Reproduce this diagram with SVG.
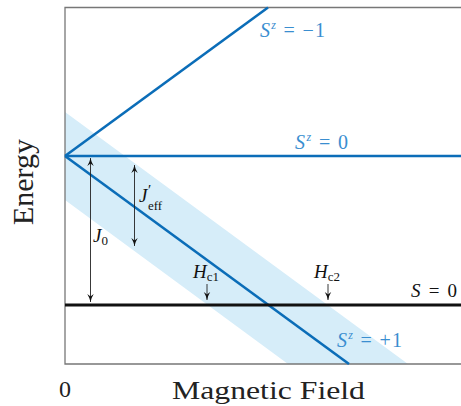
<svg xmlns="http://www.w3.org/2000/svg" width="461" height="406" viewBox="0 0 461 406">
<defs>
<style>
text{font-family:"Liberation Serif","DejaVu Serif",serif;}
.blue{fill:#3a8ed0;font-size:20px;}
.blk{fill:#111;font-size:19px;}
.it{font-style:italic;}
.lvl{stroke:#0b6db8;stroke-width:2.6;fill:none;}
.arr{stroke:#222;stroke-width:0.9;fill:none;}
.frame{stroke:#777;stroke-width:1.3;fill:none;}
</style>
<marker id="ah" viewBox="0 0 10 10" refX="10" refY="5" markerWidth="8" markerHeight="8" orient="auto-start-reverse" markerUnits="userSpaceOnUse">
<path d="M0,1 Q5,4 10,5 Q5,6 0,9 L3,5 Z" fill="#111"/>
</marker>
<clipPath id="plot"><rect x="65" y="7.5" width="396" height="356.5"/></clipPath>
</defs>
<g id="band" clip-path="url(#plot)">
<polygon points="65,112 408,364 288,364 65,200" fill="#d6edf9"/>
</g>
<g id="frame">
<polyline class="frame" points="461,7.5 65,7.5 65,364 461,364"/>
</g>
<g id="connectors">
<line class="lvl" x1="65" y1="156" x2="268" y2="7.5"/>
<line class="lvl" x1="65" y1="156" x2="461" y2="156"/>
<line class="lvl" x1="65" y1="156" x2="349" y2="364"/>
<line x1="65" y1="305" x2="461" y2="305" stroke="#111" stroke-width="3"/>
<line class="arr" x1="90.5" y1="158" x2="90.5" y2="302" marker-start="url(#ah)" marker-end="url(#ah)"/>
<line class="arr" x1="134.5" y1="165" x2="134.5" y2="246" marker-start="url(#ah)" marker-end="url(#ah)"/>
<line class="arr" x1="207" y1="284" x2="207" y2="300" marker-end="url(#ah)"/>
<line class="arr" x1="328" y1="284" x2="328" y2="300" marker-end="url(#ah)"/>
</g>
<g id="label-sm1"><text class="blue" x="260" y="37" textLength="65" lengthAdjust="spacing"><tspan class="it">S</tspan><tspan class="it" font-size="12" dy="-8">z</tspan><tspan dy="8"> = −1</tspan></text></g>
<g id="label-s0"><text class="blue" x="295" y="149" textLength="53" lengthAdjust="spacing"><tspan class="it">S</tspan><tspan class="it" font-size="12" dy="-8">z</tspan><tspan dy="8"> = 0</tspan></text></g>
<g id="label-sp1"><text class="blue" x="337" y="347" textLength="65" lengthAdjust="spacing"><tspan class="it">S</tspan><tspan class="it" font-size="12" dy="-8">z</tspan><tspan dy="8"> = +1</tspan></text></g>
<g id="label-S0"><text class="blk" x="411" y="297" textLength="46" lengthAdjust="spacing"><tspan class="it">S</tspan> = 0</text></g>
<g id="label-J0"><text class="blk" x="93" y="242"><tspan class="it">J</tspan><tspan font-size="13" dy="3">0</tspan></text></g>
<g id="label-Jeff"><text class="blk" x="139" y="202"><tspan class="it">J</tspan></text><text x="148" y="195" font-size="15" fill="#111">′</text><text x="148" y="210" font-size="13" fill="#111">eff</text></g>
<g id="label-Hc1"><text class="blk" x="193" y="278"><tspan class="it">H</tspan><tspan font-size="13" dy="3">c1</tspan></text></g>
<g id="label-Hc2"><text class="blk" x="314" y="278"><tspan class="it">H</tspan><tspan font-size="13" dy="3">c2</tspan></text></g>
<g id="axis-labels">
<text x="65" y="397" font-size="24" fill="#222" text-anchor="middle">0</text>
<text x="172" y="399" font-size="25" fill="#222" textLength="193" lengthAdjust="spacingAndGlyphs">Magnetic Field</text>
<text transform="translate(33,225) rotate(-90)" font-size="29" fill="#222" textLength="86" lengthAdjust="spacingAndGlyphs">Energy</text>
</g>
</svg>
